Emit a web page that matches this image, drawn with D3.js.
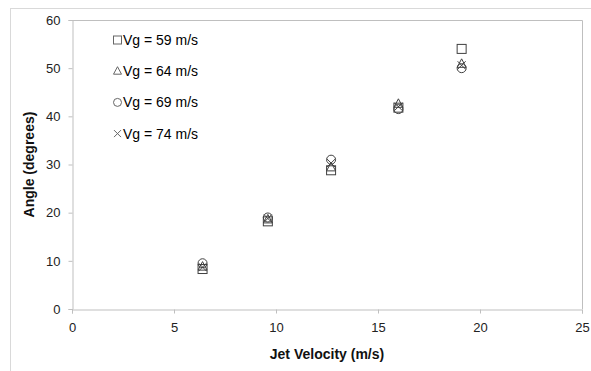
<!DOCTYPE html>
<html>
<head>
<meta charset="utf-8">
<script src="https://cdn.jsdelivr.net/npm/d3@7"></script>
<style>
  body { margin: 0; background: #fff; }
  text { font-family: "Liberation Sans", Arial, sans-serif; }
</style>
</head>
<body>
<svg id="chart-svg" width="591" height="371"></svg>
<script>
var jetVelocity = [6.4, 9.6, 12.7, 16.0, 19.1];
var vg59 = [8.3, 18.2, 28.8, 41.8, 54.0];
var vg64 = [8.8, 18.6, 29.4, 42.6, 50.9];
var vg69 = [9.5, 19.0, 31.0, 41.5, 50.0];
var vg74 = [8.7, 18.8, 30.3, 42.0, 50.6];
var seriesNames = ["Vg = 59 m/s", "Vg = 64 m/s", "Vg = 69 m/s", "Vg = 74 m/s"];
var xTicks = [0, 5, 10, 15, 20, 25];
var yTicks = [0, 10, 20, 30, 40, 50, 60];

var series = [
  { name: seriesNames[0], shape: "square", values: vg59 },
  { name: seriesNames[1], shape: "triangle", values: vg64 },
  { name: seriesNames[2], shape: "circle", values: vg69 },
  { name: seriesNames[3], shape: "cross", values: vg74 }
];

var svg = d3.select("#chart-svg");
var plotLeft = 72, plotRight = 582, plotTop = 20, plotBottom = 309;

// outer chart frame
svg.append("rect")
  .attr("x", 10.5).attr("y", 8.5)
  .attr("width", 600).attr("height", 400)
  .attr("fill", "none").attr("stroke", "#d9d9d9");

var x = d3.scaleLinear().domain([0, 25]).range([plotLeft, plotRight]);
var y = d3.scaleLinear().domain([0, 60]).range([plotBottom, plotTop]);

// plot area border (top and right)
svg.append("path")
  .attr("d", "M" + plotLeft + "," + (plotTop + 0.5) + "H" + (plotRight + 0.5) + "V" + plotBottom)
  .attr("fill", "none").attr("stroke", "#bfbfbf");

var xAxis = svg.append("g")
  .attr("transform", "translate(0," + (plotBottom + 0.5) + ")")
  .call(d3.axisBottom(x).tickValues(xTicks).tickSize(4).tickPadding(9));
var yAxis = svg.append("g")
  .attr("transform", "translate(" + (plotLeft + 0.5) + ",0)")
  .call(d3.axisLeft(y).tickValues(yTicks).tickSize(4).tickPadding(8));

[xAxis, yAxis].forEach(function (g) {
  g.select(".domain").attr("stroke", "#bfbfbf");
  g.selectAll(".tick line").attr("stroke", "#bfbfbf");
  g.selectAll(".tick text")
    .attr("fill", "#222")
    .style("font-size", "13px");
});

svg.append("text")
  .attr("x", (plotLeft + plotRight) / 2).attr("y", 359)
  .attr("text-anchor", "middle")
  .style("font-size", "14px").style("font-weight", "bold")
  .attr("fill", "#111")
  .text("Jet Velocity (m/s)");

svg.append("text")
  .attr("transform", "translate(34," + ((plotTop + plotBottom) / 2) + ") rotate(-90)")
  .attr("text-anchor", "middle")
  .style("font-size", "14px").style("font-weight", "bold")
  .attr("fill", "#111")
  .text("Angle (degrees)");

function drawMarker(g, shape, cx, cy, s) {
  if (shape === "square") {
    g.append("rect").attr("x", cx - s).attr("y", cy - s)
      .attr("width", 2 * s).attr("height", 2 * s);
  } else if (shape === "triangle") {
    g.append("path").attr("d", "M" + cx + "," + (cy - s - 0.5) +
      "L" + (cx + s) + "," + (cy + s - 1) + "L" + (cx - s) + "," + (cy + s - 1) + "Z");
  } else if (shape === "circle") {
    g.append("circle").attr("cx", cx).attr("cy", cy).attr("r", s);
  } else {
    var c = s - 0.5;
    g.append("path").attr("d", "M" + (cx - c) + "," + (cy - c) + "L" + (cx + c) + "," + (cy + c) +
      "M" + (cx + c) + "," + (cy - c) + "L" + (cx - c) + "," + (cy + c));
  }
}

var marks = svg.append("g")
  .attr("fill", "none").attr("stroke", "#404040").attr("stroke-width", 1);

series.forEach(function (s) {
  s.values.forEach(function (v, i) {
    drawMarker(marks, s.shape, x(jetVelocity[i]), y(v), 4.5);
  });
});

// legend
var legend = svg.append("g");
series.forEach(function (s, i) {
  var ly = 40 + i * 31.2;
  var lg = legend.append("g")
    .attr("fill", "none").attr("stroke", "#666").attr("stroke-width", 1);
  drawMarker(lg, s.shape, 117.5, ly, 4);
  legend.append("text")
    .attr("x", 123).attr("y", ly + 5)
    .style("font-size", "14px")
    .attr("fill", "#000")
    .text(s.name);
});
</script>
</body>
</html>
